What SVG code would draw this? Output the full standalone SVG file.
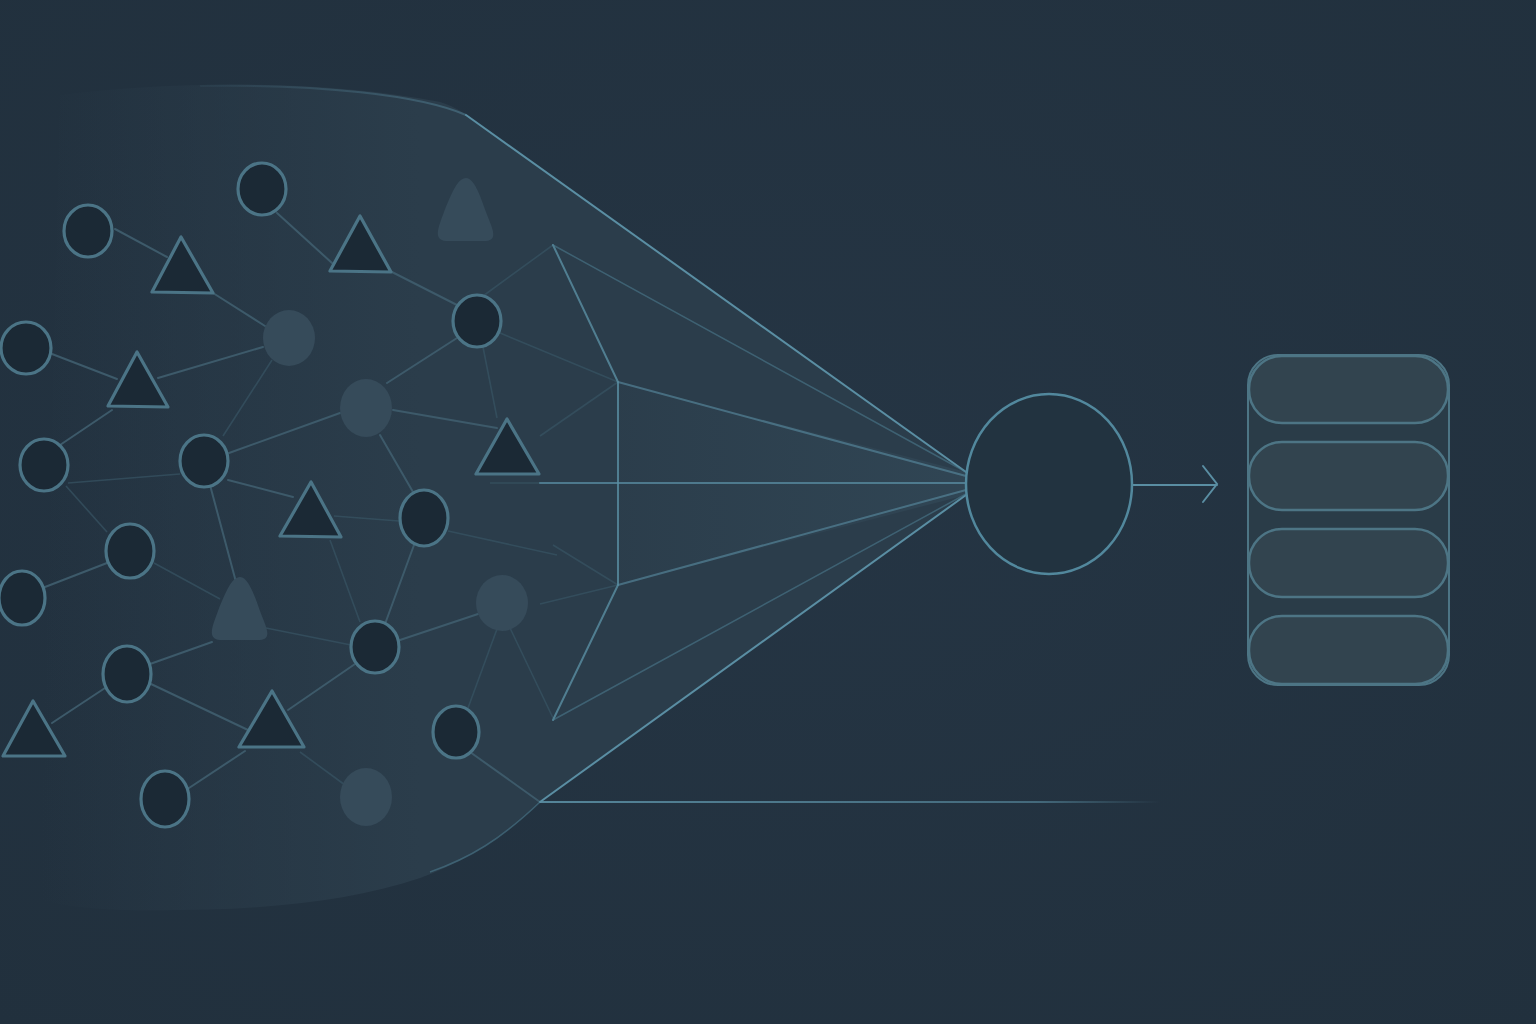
<svg xmlns="http://www.w3.org/2000/svg" width="1536" height="1024" viewBox="0 0 1536 1024">
<defs>
<radialGradient id="bg" cx="0.5" cy="0.45" r="0.75">
<stop offset="0" stop-color="#253544"/>
<stop offset="1" stop-color="#21303d"/>
</radialGradient>
<linearGradient id="fun" gradientUnits="userSpaceOnUse" x1="40" y1="0" x2="420" y2="0">
<stop offset="0" stop-color="#2b3d4b" stop-opacity="0"/>
<stop offset="1" stop-color="#2b3d4b" stop-opacity="1"/>
</linearGradient>
<linearGradient id="inner" gradientUnits="userSpaceOnUse" x1="600" y1="0" x2="966" y2="0">
<stop offset="0" stop-color="#3a5565" stop-opacity="0"/>
<stop offset="1" stop-color="#3a5565" stop-opacity="0.35"/>
</linearGradient>
<linearGradient id="fadeR" gradientUnits="userSpaceOnUse" x1="540" y1="0" x2="1160" y2="0">
<stop offset="0" stop-color="#5a8ea3" stop-opacity="0.9"/>
<stop offset="0.8" stop-color="#5a8ea3" stop-opacity="0.6"/>
<stop offset="1" stop-color="#5a8ea3" stop-opacity="0"/>
</linearGradient>
<linearGradient id="fadeTop" gradientUnits="userSpaceOnUse" x1="150" y1="0" x2="470" y2="0">
<stop offset="0" stop-color="#5a8ea3" stop-opacity="0"/>
<stop offset="1" stop-color="#5a8ea3" stop-opacity="0.45"/>
</linearGradient>
<style>
.nd{fill:#1b2935;stroke:#4b7486;stroke-width:3.2;stroke-linejoin:round}
.fl{fill:#364b5a}
.ed{stroke:#3d5a6a;stroke-width:2;fill:none;stroke-linecap:round}
.ef{stroke:#385464;stroke-width:1.6;fill:none;opacity:0.7}
.fn{stroke:#5a8ea3;stroke-width:2;fill:none;stroke-linecap:round}
.fs{stroke:#4f7f93;stroke-width:1.5;fill:none;opacity:0.55}
.pill{fill:#32444f;stroke:#4d7585;stroke-width:2.5}
</style>
</defs>
<rect width="1536" height="1024" fill="url(#bg)"/>
<path d="M60,95 C180,80 330,80 440,102 C452,106 460,110 466,115 L966,472 L966,495 L540,802 C505,835 470,860 420,878 C340,905 240,912 120,910 C80,908 60,905 40,900 Z" fill="url(#fun)"/>
<path d="M618,382 L966,472 L966,495 L618,585 Z" fill="url(#inner)"/>
<g id="connectors">
<line class="ed" x1="115" y1="229" x2="167" y2="257"/>
<line class="ed" x1="213" y1="293" x2="265" y2="326"/>
<line class="ed" x1="277" y1="213" x2="332" y2="263"/>
<line class="ed" x1="392" y1="272" x2="457" y2="305"/>
<line class="ef" x1="483" y1="296" x2="553" y2="245"/>
<line class="ed" x1="52" y1="354" x2="117" y2="379"/>
<line class="ed" x1="158" y1="378" x2="263" y2="347"/>
<line class="ef" x1="272" y1="360" x2="223" y2="436"/>
<line class="ed" x1="112" y1="410" x2="60" y2="445"/>
<line class="ed" x1="457" y1="338" x2="387" y2="383"/>
<line class="ed" x1="340" y1="413" x2="229" y2="453"/>
<line class="ed" x1="393" y1="410" x2="497" y2="428"/>
<line class="ed" x1="380" y1="435" x2="413" y2="492"/>
<line class="ef" x1="483" y1="347" x2="497" y2="418"/>
<line class="ef" x1="500" y1="333" x2="618" y2="382"/>
<line class="ef" x1="540" y1="436" x2="618" y2="382"/>
<line class="ef" x1="68" y1="483" x2="180" y2="474"/>
<line class="ed" x1="228" y1="480" x2="293" y2="497"/>
<line class="ef" x1="66" y1="486" x2="107" y2="532"/>
<line class="ed" x1="210" y1="485" x2="236" y2="582"/>
<line class="ef" x1="334" y1="516" x2="399" y2="521"/>
<line class="ed" x1="414" y1="545" x2="385" y2="624"/>
<line class="ed" x1="45" y1="587" x2="107" y2="563"/>
<line class="ef" x1="154" y1="563" x2="220" y2="599"/>
<line class="ef" x1="266" y1="628" x2="351" y2="645"/>
<line class="ed" x1="212" y1="642" x2="150" y2="664"/>
<line class="ed" x1="400" y1="640" x2="478" y2="614"/>
<line class="ef" x1="448" y1="531" x2="557" y2="555"/>
<line class="ed" x1="355" y1="664" x2="288" y2="710"/>
<line class="ed" x1="151" y1="684" x2="248" y2="730"/>
<line class="ed" x1="105" y1="688" x2="52" y2="723"/>
<line class="ed" x1="245" y1="751" x2="186" y2="790"/>
<line class="ef" x1="300" y1="752" x2="345" y2="785"/>
<line class="ef" x1="497" y1="629" x2="468" y2="708"/>
<line class="ef" x1="510" y1="628" x2="553" y2="718"/>
<line class="ef" x1="330" y1="540" x2="360" y2="622"/>
<line class="ef" x1="540" y1="604" x2="618" y2="585"/>
<line class="ef" x1="553" y1="545" x2="618" y2="585"/>
<line class="ef" x1="490" y1="483" x2="540" y2="483"/>
<line class="ed" x1="470" y1="752" x2="540" y2="802"/>
<path class="fn" d="M466,115 L966,472"/>
<path d="M200,86 C320,84 420,95 466,115" stroke="url(#fadeTop)" stroke-width="2" fill="none"/>
<path class="fn" d="M966,495 L540,802"/>
<path class="fs" d="M540,802 C500,840 470,858 430,872"/>
<line x1="540" y1="802" x2="1160" y2="802" stroke="url(#fadeR)" stroke-width="2"/>
<path class="fn" d="M553,245 L618,382 L618,585 L553,720" opacity="0.8"/>
<line class="fs" x1="553" y1="245" x2="966" y2="472"/>
<line class="fn" x1="618" y1="382" x2="966" y2="476" opacity="0.6"/>
<line class="fn" x1="540" y1="483" x2="966" y2="483" opacity="0.75"/>
<line class="fn" x1="618" y1="585" x2="966" y2="490" opacity="0.6"/>
<line class="fs" x1="553" y1="720" x2="966" y2="494"/>
<path class="fn" d="M1133,485 L1217,485 M1203,466 L1217,484 L1203,502" stroke="#4f7f93" stroke-width="2.5"/>
</g>
<g id="nodes">
<ellipse id="c1" class="nd" cx="88" cy="231" rx="24" ry="26"/>
<ellipse id="c2" class="nd" cx="262" cy="189" rx="24" ry="26"/>
<ellipse id="c3" class="nd" cx="26" cy="348" rx="25" ry="26"/>
<ellipse id="c4" class="nd" cx="477" cy="321" rx="24" ry="26"/>
<ellipse id="c5" class="nd" cx="44" cy="465" rx="24" ry="26"/>
<ellipse id="c6" class="nd" cx="204" cy="461" rx="24" ry="26"/>
<ellipse id="c7" class="nd" cx="130" cy="551" rx="24" ry="27"/>
<ellipse id="c8" class="nd" cx="424" cy="518" rx="24" ry="28"/>
<ellipse id="c9" class="nd" cx="22" cy="598" rx="23" ry="27"/>
<ellipse id="c10" class="nd" cx="127" cy="674" rx="24" ry="28"/>
<ellipse id="c11" class="nd" cx="375" cy="647" rx="24" ry="26"/>
<ellipse id="c12" class="nd" cx="456" cy="732" rx="23" ry="26"/>
<ellipse id="c13" class="nd" cx="165" cy="799" rx="24" ry="28"/>
<ellipse id="f1" class="fl" cx="289" cy="338" rx="26" ry="28"/>
<ellipse id="f2" class="fl" cx="366" cy="408" rx="26" ry="29"/>
<ellipse id="f3" class="fl" cx="502" cy="603" rx="26" ry="28"/>
<ellipse id="f4" class="fl" cx="366" cy="797" rx="26" ry="29"/>
<path id="lt1" class="fl" d="M466,178 C474,178 480,195 486,212 C492,228 499,240 486,241 L446,241 C433,240 438,228 444,212 C452,192 458,178 466,178 Z"/>
<path id="lt2" class="fl" d="M240,577 C248,577 254,594 260,611 C266,627 273,639 260,640 L220,640 C207,639 212,627 218,611 C226,591 232,577 240,577 Z"/>
<polygon id="t1" class="nd" points="181,237 152,292 213,293"/>
<polygon id="t2" class="nd" points="360,216 330,271 391,272"/>
<polygon id="t3" class="nd" points="137,352 108,406 168,407"/>
<polygon id="t4" class="nd" points="507,419 476,474 539,474"/>
<polygon id="t5" class="nd" points="311,482 280,536 341,537"/>
<polygon id="t6" class="nd" points="272,691 239,747 304,747"/>
<polygon id="t7" class="nd" points="33,701 3,756 65,756"/>
<ellipse id="hub" cx="1049" cy="484" rx="83" ry="90" fill="#223340" stroke="#52889d" stroke-width="2.5"/>
<g id="stack">
<rect x="1248" y="355" width="201" height="330" rx="30" fill="#2a3c48" stroke="#4d7585" stroke-width="2"/>
<rect class="pill" x="1249" y="356" width="199" height="67" rx="33"/>
<rect class="pill" x="1249" y="442" width="199" height="68" rx="33"/>
<rect class="pill" x="1249" y="529" width="199" height="68" rx="33"/>
<rect class="pill" x="1249" y="616" width="199" height="68" rx="33"/>
</g>
</g>
</svg>
